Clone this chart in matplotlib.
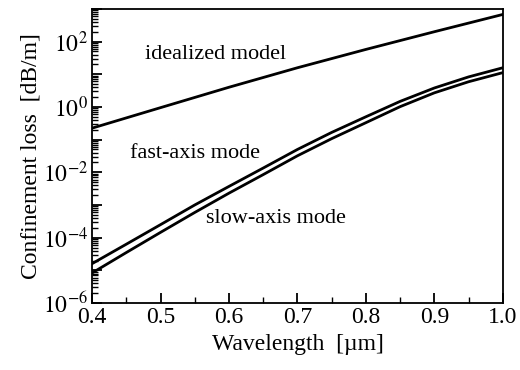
import numpy as np
from matplotlib import pyplot as plt
from matplotlib.ticker import LogLocator, FuncFormatter, MultipleLocator

plt.rcParams['font.family'] = ['Liberation Serif', 'DejaVu Serif']
plt.rcParams['mathtext.fontset'] = 'stix'

# wavelength in um
wl = [0.40, 0.45, 0.50, 0.55, 0.60, 0.65, 0.70, 0.75, 0.80, 0.85, 0.90, 0.95, 1.00]
# confinement loss, dB/m
fast_axis = [1.6e-5, 6.3e-5, 2.5e-4, 1.0e-3, 3.7e-3, 1.35e-2, 5.0e-2, 0.166, 0.50, 1.48, 3.8, 8.3, 15.8]
slow_axis = [8.3e-6, 3.5e-5, 1.45e-4, 5.9e-4, 2.3e-3, 8.5e-3, 3.2e-2, 0.107, 0.33, 1.02, 2.7, 5.9, 11.2]

wl_ideal = [0.4, 0.5, 0.6, 0.7, 0.8, 0.9, 1.0]
idealized = [0.224, 0.95, 4.0, 15.8, 57.5, 200, 676]

fig = plt.figure(figsize=(5.2, 3.7), dpi=100)
ax = fig.add_axes([0.177, 0.181, 0.79, 0.795])

ax.plot(wl_ideal, idealized, color='black', lw=2.0)
ax.plot(wl, fast_axis, color='black', lw=2.0)
ax.plot(wl, slow_axis, color='black', lw=2.0)

ax.set_yscale('log')
ax.set_xlim(0.4, 1.0)
ax.set_ylim(1e-6, 1e3)

ax.xaxis.set_major_locator(MultipleLocator(0.1))
ax.xaxis.set_minor_locator(MultipleLocator(0.05))
ax.xaxis.set_major_formatter(FuncFormatter(lambda v, p: f"{v:.1f}"))

ax.yaxis.set_major_locator(LogLocator(base=10, numticks=20))
ax.yaxis.set_minor_locator(LogLocator(base=10, subs=np.arange(2, 10), numticks=20))

def ylab(v, pos):
    e = int(round(np.log10(v)))
    if e % 2 == 0 and e <= 2:
        return r"$10^{%d}$" % e
    return ""
ax.yaxis.set_major_formatter(FuncFormatter(ylab))

ax.tick_params(which='both', direction='in', labelsize=17, top=False, right=False)
ax.tick_params(which='major', length=7, width=1.3)
ax.tick_params(which='minor', length=4, width=1.0)
ax.tick_params(axis='x', pad=3)
ax.tick_params(axis='y', pad=3)
for s in ax.spines.values():
    s.set_linewidth(1.3)

ax.set_xlabel("Wavelength  [µm]", fontsize=17, labelpad=4)
ax.set_ylabel("Confinement loss  [dB/m]", fontsize=17, labelpad=1)

ax.text(0.477, 40, "idealized model", fontsize=16, va='center')
ax.text(0.456, 0.038, "fast-axis mode", fontsize=16, va='center')
ax.text(0.567, 3.8e-4, "slow-axis mode", fontsize=16, va='center')

fig.savefig("out.png", dpi=100)
